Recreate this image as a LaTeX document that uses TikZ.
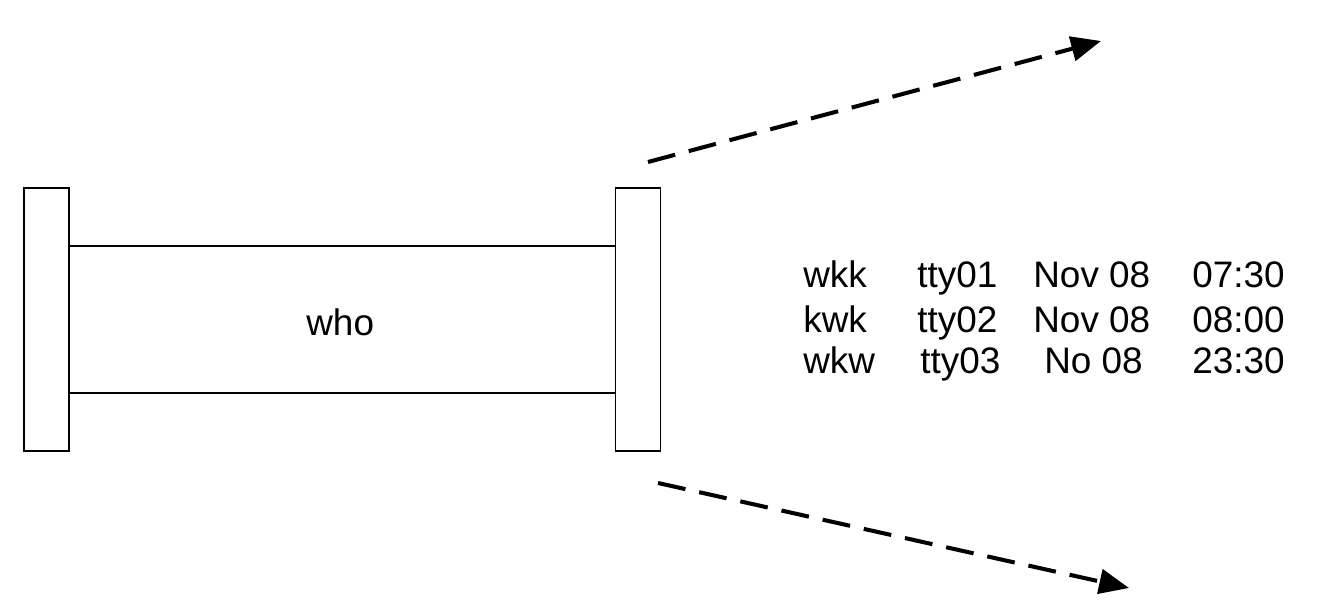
\documentclass[tikz,border=0pt]{standalone}
\usepackage{fontspec}
\setmainfont{Liberation Sans}
\usetikzlibrary{arrows.meta,positioning}
\tikzset{>=latex}
\tikzset{
	plate/.style={draw=black, line width=1.1pt, minimum width=0.9cm, minimum height=5.26cm, inner sep=0pt},
	pipe/.style={draw=black, line width=1.1pt, minimum width=10.94cm, minimum height=2.94cm, inner sep=0pt},
	cell/.style={anchor=base west, inner sep=0pt, font=\fontsize{21}{25}\selectfont},
	flow/.style={line width=2.3pt, dash pattern=on 16pt off 8pt, -{Triangle[length=17pt,width=14pt]}}
}

\begin{document}
\begin{tikzpicture}[x=0.02cm, y=-0.02cm]

	\useasboundingbox (0,0) rectangle (1320,604);

	\node (pipe) [pipe] at (342.5,319.5) {};
	\node (left-plate) [plate, fill=white] at (46.5,319.5) {};
	\node (right-plate) [plate, fill=white] at (638,319.5) {};
	\node (who) [cell] at (306,336) {who};

	% output of who
	\node (r1c1) [cell] at (803,288) {wkk};
	\node (r1c2) [cell] at (917,288) {tty01};
	\node (r1c3) [cell] at (1033,288) {Nov 08};
	\node (r1c4) [cell] at (1192,288) {07:30};

	\node (r2c1) [cell] at (803,333) {kwk};
	\node (r2c2) [cell] at (917,333) {tty02};
	\node (r2c3) [cell] at (1033,333) {Nov 08};
	\node (r2c4) [cell] at (1192,333) {08:00};

	\node (r3c1) [cell] at (803,374) {wkw};
	\node (r3c2) [cell] at (920,374) {tty03};
	\node (r3c3) [cell] at (1044,374) {No 08};
	\node (r3c4) [cell] at (1192,374) {23:30};

	\coordinate (up-start) at (648,162);
	\coordinate (up-end) at (1101,41);
	\coordinate (down-start) at (658,483);
	\coordinate (down-end) at (1129,588);

	\draw[flow] (up-start) to (up-end);
	\draw[flow] (down-start) to (down-end);

\end{tikzpicture}
\end{document}
